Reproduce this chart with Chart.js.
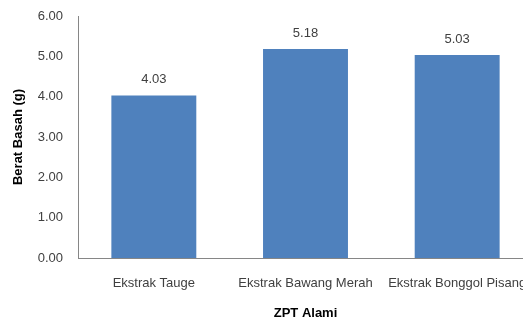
<!DOCTYPE html>
<html lang="en">
<head>
<meta charset="UTF-8">
<title>Berat Basah</title>
<style>
  html, body { margin: 0; padding: 0; overflow: hidden; background: #fff; }
  #wrap { width: 533px; height: 321px; }
</style>
</head>
<body>
<div id="wrap"><canvas id="myChart"></canvas></div>
<script src="https://cdn.jsdelivr.net/npm/chart.js"></script>
<script>
const categories = ['Ekstrak Tauge', 'Ekstrak Bawang Merah', 'Ekstrak Bonggol Pisang'];
const beratBasah = [4.03, 5.18, 5.03];
const yTicks = [0, 1, 2, 3, 4, 5, 6];

const fontFamily = "'Liberation Sans', Arial, sans-serif";

// draws the value above each bar
const barLabels = {
  id: 'barLabels',
  afterDatasetsDraw(chart) {
    const ctx = chart.ctx;
    const meta = chart.getDatasetMeta(0);
    ctx.save();
    ctx.font = '13px ' + fontFamily;
    ctx.fillStyle = '#404040';
    ctx.textAlign = 'center';
    ctx.textBaseline = 'middle';
    meta.data.forEach((bar, i) => {
      ctx.fillText(beratBasah[i].toFixed(2), bar.x, bar.y - 16);
    });
    ctx.restore();
  }
};

new Chart(document.getElementById('myChart'), {
  type: 'bar',
  data: {
    labels: categories,
    datasets: [{
      label: 'Berat Basah (g)',
      data: beratBasah,
      backgroundColor: '#4F81BD',
      borderWidth: 0,
      categoryPercentage: 1,
      barPercentage: 0.56
    }]
  },
  options: {
    responsive: true,
    maintainAspectRatio: false,
    animation: false,
    layout: { padding: { top: 16, left: 0, right: 0, bottom: 0 } },
    plugins: {
      legend: { display: false },
      tooltip: { enabled: false }
    },
    scales: {
      x: {
        grid: { display: false, drawTicks: false },
        border: { color: '#868686', width: 1 },
        ticks: {
          color: '#404040',
          font: { family: fontFamily, size: 13 },
          padding: 18,
          maxRotation: 0,
          autoSkip: false
        },
        title: {
          display: true,
          text: 'ZPT Alami',
          color: '#000',
          font: { family: fontFamily, size: 13, weight: 'bold' },
          padding: { top: 6, bottom: 0 }
        },
        afterFit(scale) {
          scale.height = 63;
          scale.paddingLeft = 0;
          scale.paddingRight = 0;
        }
      },
      y: {
        min: 0,
        max: 6,
        afterBuildTicks(scale) { scale.ticks = yTicks.map(v => ({ value: v })); },
        grid: { display: false, drawTicks: false },
        border: { color: '#868686', width: 1 },
        ticks: {
          color: '#404040',
          font: { family: fontFamily, size: 13 },
          padding: 15,
          callback: v => Number(v).toFixed(2)
        },
        title: {
          display: true,
          text: 'Berat Basah (g)',
          color: '#000',
          font: { family: fontFamily, size: 13, weight: 'bold' },
          padding: { top: 11, bottom: 4 }
        },
        afterFit(scale) {
          scale.width = 78;
          scale.paddingTop = 0;
          scale.paddingBottom = 0;
        }
      }
    }
  },
  plugins: [barLabels]
});
</script>
</body>
</html>
